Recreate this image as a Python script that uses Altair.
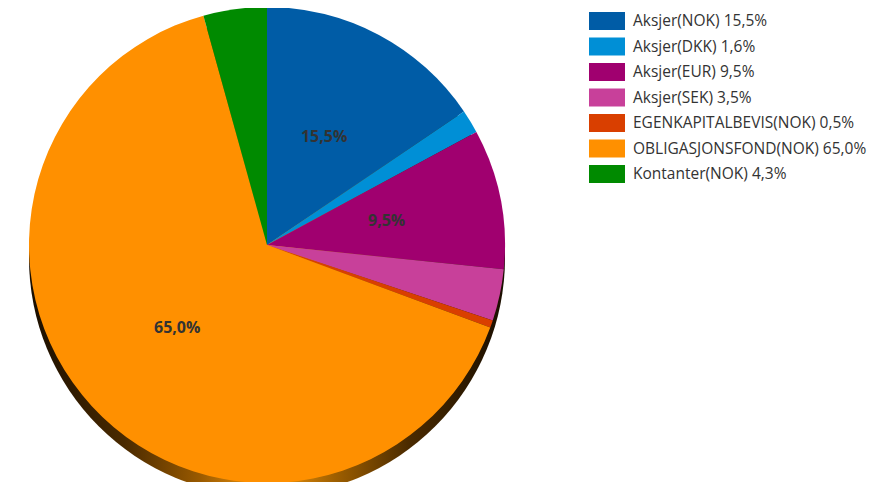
import altair as alt
import pandas as pd

names = ["Aksjer(NOK)", "Aksjer(DKK)", "Aksjer(EUR)", "Aksjer(SEK)",
         "EGENKAPITALBEVIS(NOK)", "OBLIGASJONSFOND(NOK)", "Kontanter(NOK)"]
shares = [15.5, 1.6, 9.5, 3.5, 0.5, 65.0, 4.3]
colors = ["#005ca6", "#008fd6", "#a0006f", "#c8409a", "#d93f00", "#ff9000", "#008a00"]


def fmt(v):
    return f"{v:.1f}".replace(".", ",") + "%"


df = pd.DataFrame({"idx": list(range(len(names))), "name": names, "share": shares})
df["legend"] = [f"{n} {fmt(v)}" for n, v in zip(names, shares)]
df["label"] = [fmt(v) if v >= 5 else "" for v in shares]

# view coordinates (page minus the 8px margin)
CX, CY, R = 259, 237, 238
FONT = "Open Sans"

color_enc = alt.Color("name:N", scale=alt.Scale(domain=names, range=colors), legend=None)
theta_enc = alt.Theta("share:Q", stack=True)

shadow = alt.Chart(pd.DataFrame({"k": [0]})).mark_arc(
    outerRadius=R, theta=0, theta2=6.2832,
    color=alt.LinearGradient(
        gradient="linear", x1=0, x2=1, y1=0, y2=0,
        stops=[
            alt.GradientStop(color="#1a0e00", offset=0),
            alt.GradientStop(color="#4a2a00", offset=0.2),
            alt.GradientStop(color="#9a5a00", offset=0.36),
            alt.GradientStop(color="#f59a10", offset=0.5),
            alt.GradientStop(color="#a06000", offset=0.64),
            alt.GradientStop(color="#4a2a00", offset=0.8),
            alt.GradientStop(color="#1a0e00", offset=1),
        ],
    ),
).encode(x=alt.value(CX), y=alt.value(CY + 13))

base = alt.Chart(df)

pie = base.mark_arc(outerRadius=R).encode(
    theta=theta_enc,
    color=color_enc,
    order=alt.Order("idx:Q"),
    x=alt.value(CX),
    y=alt.value(CY),
)

labels = base.mark_text(
    radius=122, font=FONT, fontSize=16, fontWeight="bold", color="#333333"
).encode(
    theta=theta_enc,
    order=alt.Order("idx:Q"),
    text="label:N",
    x=alt.value(CX),
    y=alt.value(CY),
)

leg_y = alt.Y("idx:Q", scale=alt.Scale(domain=[0, 6], range=[13, 166]), axis=None)

leg_sym = base.mark_point(
    shape="M-1,-0.5H1V0.5H-1Z", size=1296, filled=True, opacity=1, strokeWidth=0
).encode(x=alt.value(599), y=leg_y, color=color_enc)

leg_txt = base.mark_text(
    align="left", baseline="middle", font=FONT, fontSize=15.5, color="#333333"
).encode(x=alt.value(625), y=leg_y, text="legend:N")

chart = alt.layer(shadow, pie, labels, leg_sym, leg_txt).properties(
    width=864, height=474, padding=0, autosize="none"
).configure_view(stroke=None)

chart.save("out.html", embed_options={"renderer": "svg", "actions": False})
